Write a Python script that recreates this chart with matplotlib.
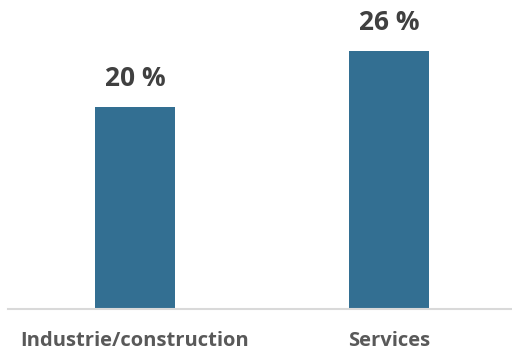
import matplotlib
matplotlib.use("Agg")
import matplotlib.pyplot as plt

categories = ["Industrie/construction", "Services"]
values = [20.3, 25.9]
value_labels = ["20 %", "26 %"]

bar_color = "#336F92"
fig = plt.figure(figsize=(5.12, 3.5), dpi=100)
ax = fig.add_axes([8/512, 1 - 309/350, 1 - 8/512, 309/350])
x = list(range(len(categories)))
bars = ax.bar(x, values, width=0.315, color=bar_color, zorder=2)
ax.set_xlim(-0.5, 1.484)
ax.set_ylim(0, 31)
for s in ["top", "right", "left"]:
    ax.spines[s].set_visible(False)
ax.spines["bottom"].set_color("#D9D9D9")
ax.spines["bottom"].set_linewidth(1.5)
ax.set_yticks([])
ax.set_xticks(x)
ax.set_xticklabels(categories, fontsize=14.5, fontweight="bold", color="#595959", family="Open Sans")
ax.tick_params(axis="x", length=0, pad=16)
for xi, v, lab in zip(x, values, value_labels):
    ax.annotate(lab, (xi, v), xytext=(0, 10.5), textcoords="offset points",
                ha="center", va="bottom", fontsize=19, fontweight="bold",
                color="#404040", family="Open Sans")
fig.savefig("out.png", dpi=100)
